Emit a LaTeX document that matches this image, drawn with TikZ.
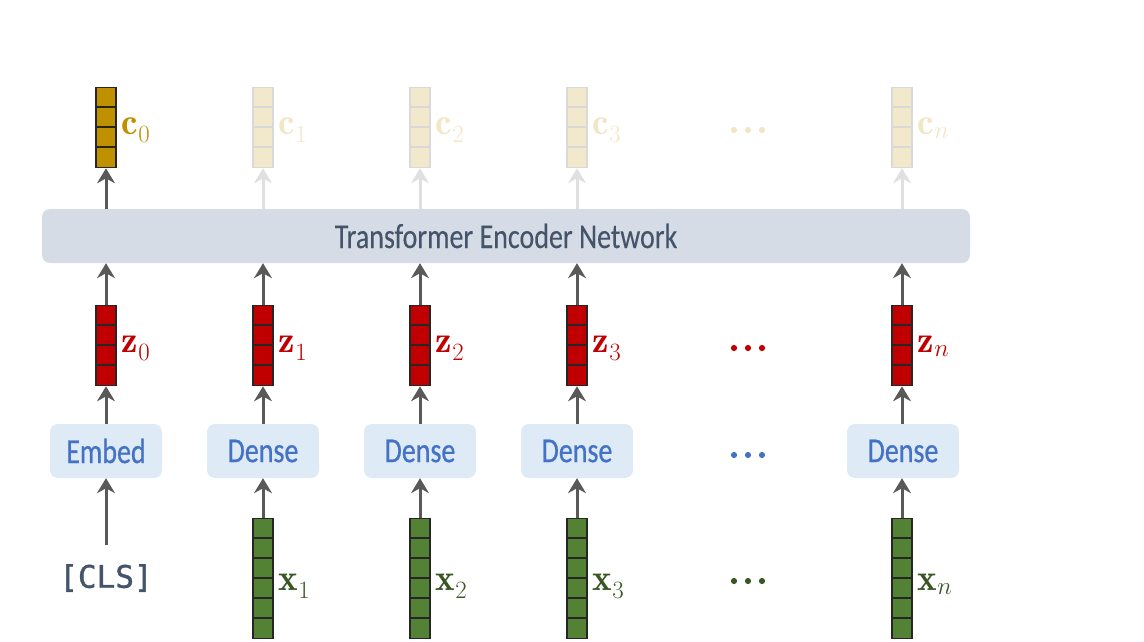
\documentclass[tikz,border=0pt]{standalone}
\usepackage{fontspec}
\usetikzlibrary{arrows.meta}
\newfontfamily\boxfont[FakeStretch=0.8,FakeBold=0.6]{Carlito}
\newfontfamily\trfont[FakeStretch=0.8,FakeBold=0.2]{Carlito}
\newfontfamily\clsfont[FakeBold=1.2]{DejaVu Sans Mono}
\definecolor{cgold}{HTML}{BF9000}
\definecolor{clight}{HTML}{F2E8CC}
\definecolor{clighttext}{HTML}{F2E6C6}
\definecolor{cgrayline}{HTML}{D9D9D9}
\definecolor{zred}{HTML}{C00000}
\definecolor{xgreen}{HTML}{548235}
\definecolor{xgreentext}{HTML}{385723}
\definecolor{bfill}{HTML}{DEEAF6}
\definecolor{btext}{HTML}{4472C4}
\definecolor{tfill}{HTML}{D6DCE5}
\definecolor{ttext}{HTML}{44546A}
\definecolor{arrdark}{HTML}{595959}
\definecolor{arrlight}{HTML}{E0E0E0}
\tikzset{
  vecbox/.style={rectangle, minimum width=20pt, inner sep=0pt, line width=1.3pt, anchor=north},
  arr/.style={line width=3pt, draw=arrdark, -{Stealth[length=15pt,width=18pt,inset=5pt]}},
  arrl/.style={arr, draw=arrlight},
  lab/.style={inner sep=0pt, anchor=base west, font=\fontsize{37}{44}\selectfont},
  layerbox/.style={rectangle, rounded corners=8pt, fill=bfill, text=btext, minimum width=112pt, minimum height=54pt, inner sep=0pt, font=\boxfont\fontsize{35}{40}\selectfont},
}
\newcommand{\cellsep}[3]{% name, cells, color
  \foreach \k in {1,...,#2}{
    \draw[line width=1.5pt, draw=#3] ([yshift=-\k*20pt]#1.north west) -- ([yshift=-\k*20pt]#1.north east);
  }}
\newcommand{\dotrow}[3]{% name, y, color
  \foreach \d/\dx in {a/734,b/748,c/762}{
    \fill[#3] (\dx,#2) circle[radius=3.1pt];
  }
  \coordinate (#1) at (748,#2);}
\begin{document}
\begin{tikzpicture}[x=1pt,y=-1pt]
\useasboundingbox (0,0) rectangle (1144,641);
% transformer
\node[rectangle, rounded corners=8pt, fill=tfill, minimum width=928pt, minimum height=54pt, inner sep=0pt, text=ttext, font=\trfont\fontsize{35}{40}\selectfont] (T) at (506,236) {Transformer Encoder Network};
% c vectors
\node[vecbox, fill=cgold, draw=black!85, minimum height=80pt] (c0) at (106,87) {};
\cellsep{c0}{3}{black!85}
\foreach \i/\xx in {1/263,2/420,3/577,n/902}{
  \node[vecbox, fill=clight, draw=cgrayline, minimum height=80pt] (c\i) at (\xx,87) {};
  \cellsep{c\i}{3}{cgrayline}
}
\node[lab, text=cgold] (c0l) at ([xshift=5pt,yshift=-7pt]c0.east) {$\mathbf{c}_0$};
\foreach \i in {1,2,3,n}{
  \node[lab, text=clighttext] (c\i l) at ([xshift=5pt,yshift=-7pt]c\i.east) {$\mathbf{c}_\i$};
}
\dotrow{cd}{130}{clighttext}
% z vectors
\foreach \i/\xx in {0/106,1/263,2/420,3/577,n/902}{
  \node[vecbox, fill=zred, draw=black!85, minimum height=80pt] (z\i) at (\xx,305) {};
  \cellsep{z\i}{3}{black!85}
  \node[lab, text=zred] (z\i l) at ([xshift=5pt,yshift=-7pt]z\i.east) {$\mathbf{z}_\i$};
}
\dotrow{zd}{348}{zred}
% layer boxes
\node[layerbox] (e0) at (106,451) {Embed};
\foreach \i/\xx in {1/263,2/420,3/577,n/903}{
  \node[layerbox] (d\i) at (\xx,451) {Dense};
}
\dotrow{bd}{455}{btext}
% x vectors
\foreach \i/\xx in {1/263,2/420,3/577,n/902}{
  \node[vecbox, fill=xgreen, draw=black!85, minimum height=120pt] (x\i) at (\xx,518) {};
  \cellsep{x\i}{5}{black!85}
  \node[lab, text=xgreentext] (x\i l) at ([xshift=5pt,yshift=-12pt]x\i.east) {$\mathbf{x}_\i$};
}
\dotrow{xd}{581}{xgreentext}
% CLS
\node[inner sep=0pt, text=ttext, font=\clsfont\fontsize{31}{36}\selectfont] (cls) at (106,578) {[CLS]};
\coordinate (clsstart) at (106,545);
% arrows
\draw[arr] (clsstart) -- (e0.south);
\draw[arr] (e0.north) -- (z0.south);
\foreach \i in {1,2,3,n}{
  \draw[arr] (x\i.north) -- (d\i.south -| x\i.north);
  \draw[arr] (d\i.north -| z\i.south) -- (z\i.south);
}
\foreach \i in {0,1,2,3,n}{
  \draw[arr] (z\i.north) -- (z\i.north |- T.south);
}
\draw[arr] (c0.south |- T.north) -- (c0.south);
\foreach \i in {1,2,3,n}{
  \draw[arrl] (c\i.south |- T.north) -- (c\i.south);
}
\end{tikzpicture}
\end{document}
